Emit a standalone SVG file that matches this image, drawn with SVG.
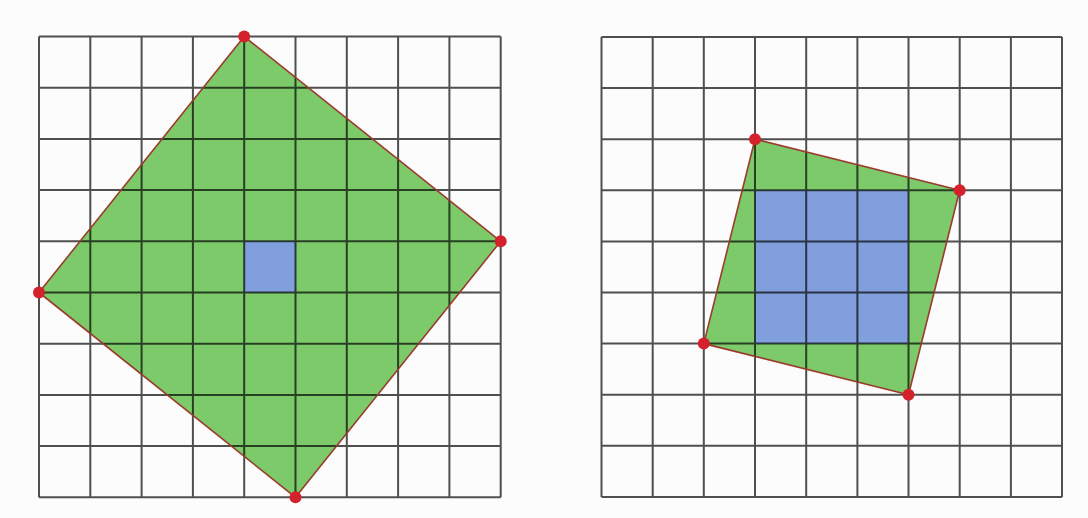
<svg xmlns="http://www.w3.org/2000/svg" width="1088" height="518" viewBox="0 0 1088 518">
<style>
.green{fill:#7dca6b}
.blue{fill:#809fdc}
.grid{fill:none;stroke:#505050;stroke-width:2;mix-blend-mode:multiply}
.edge{fill:none;stroke:#9a3b2c;stroke-width:1.6;stroke-linejoin:round}
.dot{fill:#d4222c}
</style>
<rect width="1088" height="518" fill="#fcfcfd"/>
<g id="left-figure">
<polygon class="green" points="244.2,36.5 500.7,241.3 295.5,497.3 39,292.5"/>
<rect class="blue" x="244.2" y="241.3" width="51.3" height="51.2"/>
<path class="grid" d="M39,36.5V497.3M90.3,36.5V497.3M141.6,36.5V497.3M192.9,36.5V497.3M244.2,36.5V497.3M295.5,36.5V497.3M346.8,36.5V497.3M398.1,36.5V497.3M449.4,36.5V497.3M500.7,36.5V497.3M39,36.5H500.7M39,87.7H500.7M39,138.9H500.7M39,190.1H500.7M39,241.3H500.7M39,292.5H500.7M39,343.7H500.7M39,394.9H500.7M39,446.1H500.7M39,497.3H500.7"/>
<polygon class="edge" points="244.2,36.5 500.7,241.3 295.5,497.3 39,292.5"/>
<circle class="dot" cx="244.2" cy="36.5" r="6"/>
<circle class="dot" cx="500.7" cy="241.3" r="6"/>
<circle class="dot" cx="295.5" cy="497.3" r="6"/>
<circle class="dot" cx="39" cy="292.5" r="6"/>
</g>
<g id="right-figure">
<polygon class="green" points="755,139.2 959.7,190.3 908.5,394.7 703.8,343.6"/>
<rect class="blue" x="755" y="190.3" width="153.5" height="153.3"/>
<path class="grid" d="M601.5,37V497M652.7,37V497M703.8,37V497M755,37V497M806.2,37V497M857.4,37V497M908.5,37V497M959.7,37V497M1010.9,37V497M1062,37V497M601.5,37H1062M601.5,88.1H1062M601.5,139.2H1062M601.5,190.3H1062M601.5,241.4H1062M601.5,292.5H1062M601.5,343.6H1062M601.5,394.7H1062M601.5,445.8H1062M601.5,497H1062"/>
<polygon class="edge" points="755,139.2 959.7,190.3 908.5,394.7 703.8,343.6"/>
<circle class="dot" cx="755" cy="139.2" r="6"/>
<circle class="dot" cx="959.7" cy="190.3" r="6"/>
<circle class="dot" cx="908.5" cy="394.7" r="6"/>
<circle class="dot" cx="703.8" cy="343.6" r="6"/>
</g>
</svg>
